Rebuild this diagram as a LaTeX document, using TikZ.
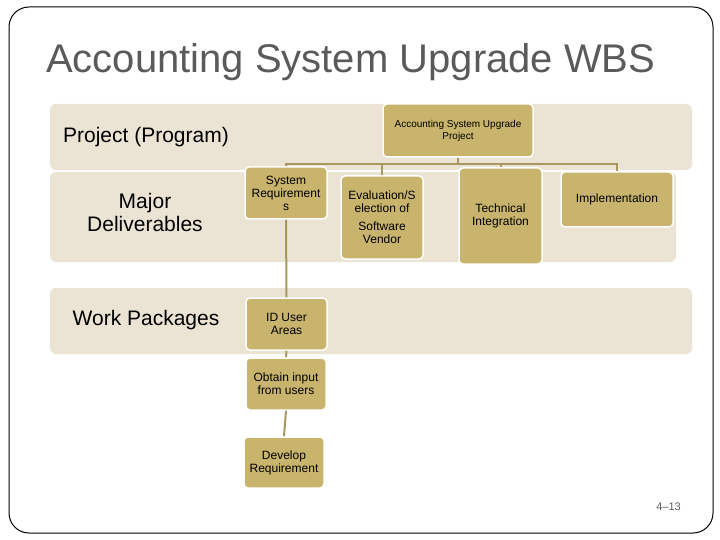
\documentclass[tikz,border=0pt]{standalone}
\usepackage{fontspec}
\setmainfont{Liberation Sans}
\usepackage{tikz}
\usetikzlibrary{positioning}
\definecolor{wbsgold}{HTML}{C8B46C}
\definecolor{wbsband}{HTML}{EBE4D4}
\definecolor{wbsline}{HTML}{A8975E}
\definecolor{wbsgray}{HTML}{5A5A5A}
\begin{document}
\begin{tikzpicture}[x=1pt,y=-1pt,
      band/.style={fill=wbsband, draw=none, rounded corners=6pt, inner sep=0pt},
      wbsbox/.style={fill=wbsgold, draw=white, line width=1.5pt, rounded corners=4pt,
                    inner sep=1pt, align=center, font=\fontsize{12}{13}\selectfont},
      rowlabel/.style={font=\fontsize{21}{23}\selectfont, align=center, text=black},
      link/.style={draw=wbsline, line width=2pt}
    ]
      \useasboundingbox (0,0) rectangle (720,540);
      \draw[black, line width=1pt, rounded corners=20pt] (9,7) rectangle (713,533);
      \node[anchor=base west, inner sep=0pt, text=wbsgray,
            font=\fontsize{40}{44}\selectfont] (title) at (46,73) {Accounting System Upgrade WBS};

      \node[band, minimum width=642pt, minimum height=66pt] (band1) at (371,137) {};
      \node[band, minimum width=626pt, minimum height=90pt] (band2) at (363,217) {};
      \node[band, minimum width=642pt, minimum height=66pt] (band3) at (371,321) {};

      \node[rowlabel] (lproj) at (146,137) {Project (Program)};
      \node[rowlabel] (ldeliv) at (145,212) {Major\\Deliverables};
      \node[rowlabel] (lwork) at (146,320) {Work Packages};

      \node[wbsbox, minimum width=150pt, minimum height=53pt,
            font=\fontsize{10}{12}\selectfont] (top) at (458,130.5) {Accounting System Upgrade\\Project};
      \node[wbsbox, minimum width=82pt, minimum height=52pt] (sysreq) at (286,193) {System\\Requirement\\s};
      \node[wbsbox, minimum width=82pt, minimum height=83pt] (evalsel) at (382,217.5) {Evaluation/S\\election of\\[5pt]Software\\Vendor};
      \node[wbsbox, minimum width=83pt, minimum height=96pt] (techint) at (500.5,216) {Technical\\Integration};
      \node[wbsbox, minimum width=112pt, minimum height=55pt] (impl) at (617,199.5) {Implementation};

      \node[wbsbox, minimum width=81pt, minimum height=52pt] (iduser) at (286.5,324) {ID User\\Areas};
      \node[wbsbox, minimum width=80pt, minimum height=52pt] (obtain) at (286,384) {Obtain input\\from users};
      \node[wbsbox, minimum width=80pt, minimum height=51pt] (develop) at (284,462.5) {Develop\\Requirement};

      \node[anchor=base east, inner sep=0pt, text=wbsgray,
            font=\fontsize{11}{12}\selectfont] (pageno) at (681,510) {4--13};

      \draw[link] (top.south) -- ++(0,6) -| (sysreq.north);
      \draw[link] (top.south) -- ++(0,6) -| (evalsel.north);
      \draw[link] (top.south) -- ++(0,6) -| (techint.north);
      \draw[link] (top.south) -- ++(0,6) -| (impl.north);
      \draw[link] (sysreq.south) -- (iduser.north);
      \draw[link] (iduser.south) -- (obtain.north);
      \draw[link] (obtain.south) -- (develop.north);
    \end{tikzpicture}
\end{document}
